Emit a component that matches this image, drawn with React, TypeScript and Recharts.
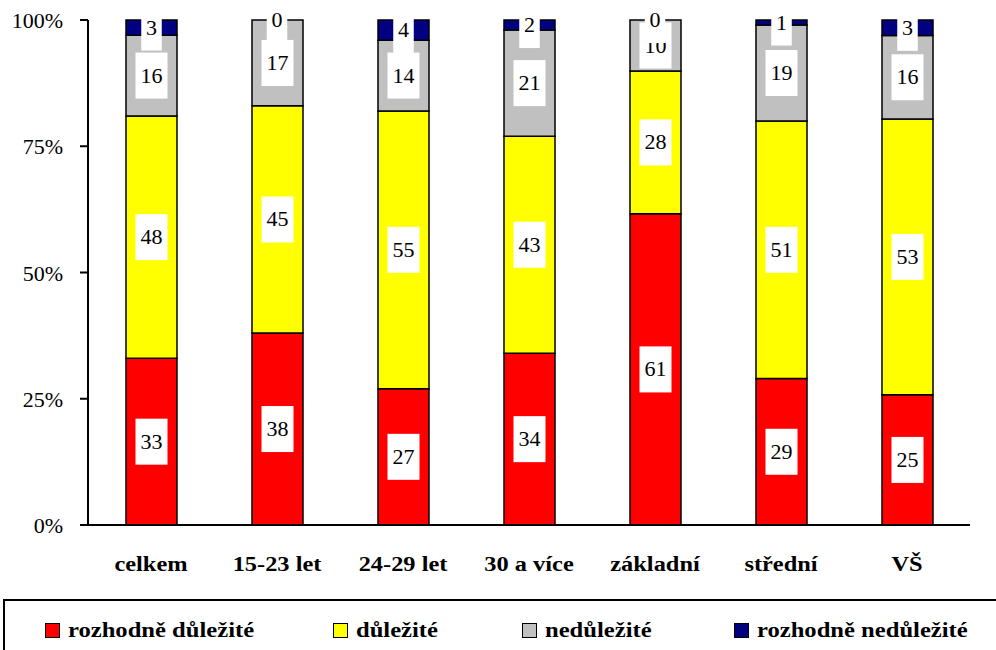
import React from "react";
import { BarChart, Bar, XAxis, YAxis, LabelList, ReferenceDot } from "recharts";

const categories = ["celkem", "15-23 let", "24-29 let", "30 a více", "základní", "střední", "VŠ"];
const rozhodneDulezite = [33, 38, 27, 34, 61, 29, 25];
const dulezite = [48, 45, 55, 43, 28, 51, 53];
const nedulezite = [16, 17, 14, 21, 10, 19, 16];
const rozhodneNedulezite = [3, 0, 4, 2, 0, 1, 3];

const seriesNames = ["rozhodně důležité", "důležité", "nedůležité", "rozhodně nedůležité"];
const seriesColors = ["#ff0000", "#ffff00", "#c0c0c0", "#000080"];
const seriesKeys = ["s0", "s1", "s2", "s3"];
const yTicks = [0, 0.25, 0.5, 0.75, 1];
const edgeTicks = [0, 1, 2, 3, 4, 5, 6, 7];

const data = categories.map((cat, i) => ({
  cat,
  idx: i,
  s0: rozhodneDulezite[i],
  s1: dulezite[i],
  s2: nedulezite[i],
  s3: rozhodneNedulezite[i],
}));

// zero-height top segments get no label from the Bar, so they are drawn as dots at 100%
const zeroTop = data.filter((d) => d.s3 === 0);

const FONT = "'Liberation Serif', 'Times New Roman', serif";
const legendX = [45, 333, 522, 734];

function Box({ cx, cy, v }: { cx: number; cy: number; v: string }) {
  const bw = v.length * 11.5 + 9;
  const bh = 46;
  return (
    <g>
      <rect x={cx - bw / 2} y={cy - bh / 2} width={bw} height={bh} fill="#fff" />
      <text
        transform={`translate(${cx},${cy + 7}) scale(1.1,1)`}
        textAnchor="middle"
        fontSize={20}
        fontFamily={FONT}
        fill="#000"
      >
        {v}
      </text>
    </g>
  );
}

function BoxLabel(props: any) {
  const vb = props.viewBox ?? props;
  const x = Number(vb.x ?? props.x);
  const y = Number(vb.y ?? props.y);
  const w = Number(vb.width ?? props.width);
  const h = Number(vb.height ?? props.height);
  return <Box cx={x + w / 2} cy={y + h / 2} v={String(props.value)} />;
}

function YTick(props: any) {
  const { x, y, payload } = props;
  return (
    <text
      transform={`translate(${x - 17},${y + 8}) scale(1.1,1)`}
      textAnchor="end"
      fontSize={20}
      fontFamily={FONT}
      fill="#000"
    >
      {`${Math.round(payload.value * 100)}%`}
    </text>
  );
}

function CatTick(props: any) {
  const { x, y, payload } = props;
  return (
    <text
      transform={`translate(${x},${y + 46}) scale(1.22,1)`}
      textAnchor="middle"
      fontSize={20}
      fontWeight="bold"
      fontFamily={FONT}
      fill="#000"
    >
      {payload.value}
    </text>
  );
}

export default function App() {
  return (
    <div
      style={{
        position: "absolute",
        left: 0,
        top: 0,
        width: 996,
        height: 650,
        overflow: "hidden",
        background: "#fff",
        fontFamily: FONT,
      }}
    >
      <BarChart
        width={996}
        height={650}
        data={data}
        stackOffset="expand"
        margin={{ top: 20, right: 26, left: 0, bottom: 75 }}
      >
        <XAxis
          xAxisId="top"
          dataKey="cat"
          orientation="top"
          height={0}
          tick={false}
          tickLine={false}
          axisLine={{ stroke: "#000", strokeWidth: 2 }}
        />
        <XAxis
          xAxisId="edges"
          dataKey="idx"
          type="number"
          domain={[0, 7]}
          allowDataOverflow
          ticks={edgeTicks}
          height={0}
          tick={false}
          tickSize={9}
          tickLine={{ stroke: "#000", strokeWidth: 2 }}
          axisLine={false}
        />
        <XAxis
          dataKey="cat"
          height={50}
          tickSize={0}
          tickMargin={0}
          tick={<CatTick />}
          axisLine={{ stroke: "#000", strokeWidth: 2 }}
          interval={0}
        />
        <YAxis
          width={88}
          domain={[0, 1]}
          ticks={yTicks}
          tickSize={8}
          tickMargin={0}
          tick={<YTick />}
          tickLine={{ stroke: "#000", strokeWidth: 2 }}
          axisLine={{ stroke: "#000", strokeWidth: 2 }}
        />
        <YAxis
          yAxisId="right"
          orientation="right"
          width={0}
          domain={[0, 1]}
          tick={false}
          tickLine={false}
          axisLine={{ stroke: "#000", strokeWidth: 2 }}
        />
        {seriesKeys.map((k, i) => (
          <Bar
            key={k}
            dataKey={k}
            name={seriesNames[i]}
            stackId="a"
            fill={seriesColors[i]}
            stroke="#000"
            strokeWidth={1.5}
            barSize={51}
            isAnimationActive={false}
          >
            <LabelList dataKey={k} content={BoxLabel} />
          </Bar>
        ))}
        {zeroTop.map((d) => (
          <ReferenceDot
            key={d.cat}
            x={d.cat}
            y={1}
            ifOverflow="visible"
            zIndex={3000}
            shape={(p: any) => <Box cx={p.cx} cy={p.cy} v={String(d.s3)} />}
          />
        ))}
      </BarChart>
      <div
        style={{
          position: "absolute",
          left: 3,
          top: 599,
          width: 1010,
          height: 80,
          border: "2px solid #000",
          boxSizing: "border-box",
        }}
      />
      {seriesNames.map((name, i) => (
        <div
          key={name}
          style={{
            position: "absolute",
            left: legendX[i],
            top: 622,
            height: 16,
            display: "flex",
            alignItems: "center",
            whiteSpace: "nowrap",
          }}
        >
          <div
            style={{
              width: 15,
              height: 15,
              background: seriesColors[i],
              border: "1.5px solid #000",
              boxSizing: "border-box",
            }}
          />
          <span
            style={{
              marginLeft: 8,
              fontSize: 20,
              fontWeight: "bold",
              lineHeight: "16px",
              transform: "scaleX(1.23)",
              transformOrigin: "left center",
              display: "inline-block",
            }}
          >
            {name}
          </span>
        </div>
      ))}
    </div>
  );
}
